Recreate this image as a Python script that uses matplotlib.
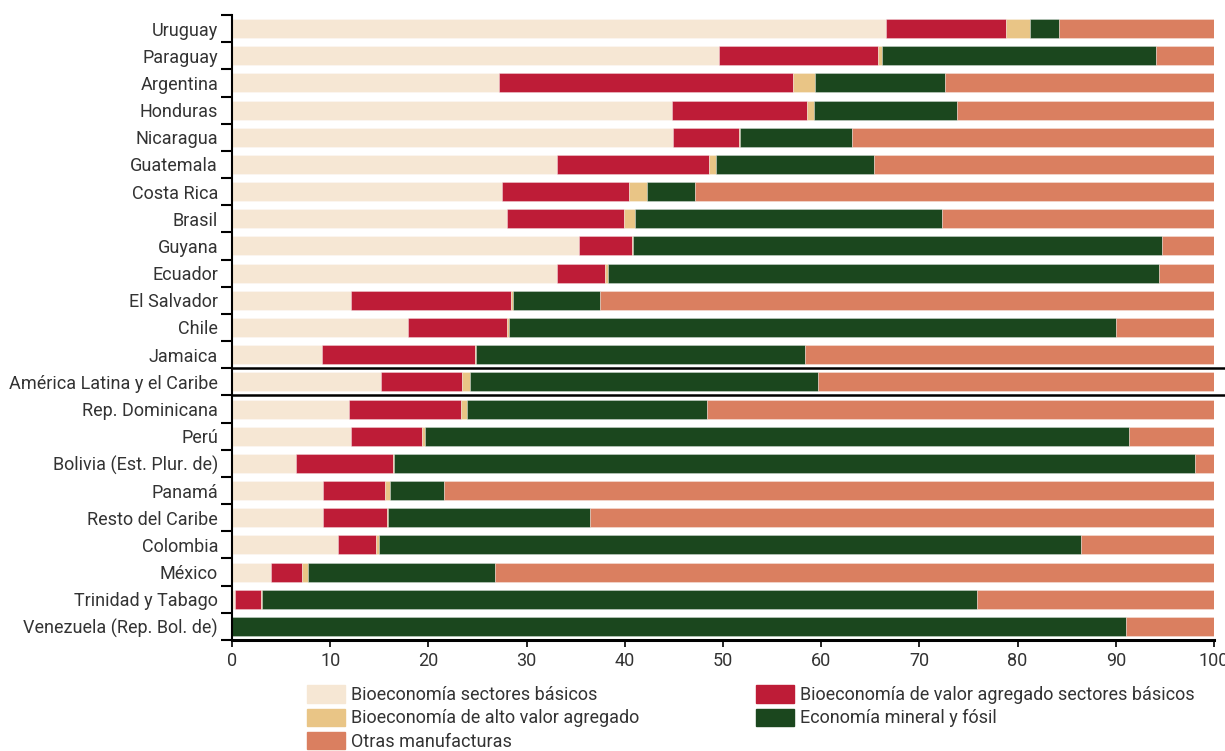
import matplotlib
matplotlib.use("Agg")
import matplotlib.pyplot as plt
from matplotlib.patches import Patch
import numpy as np

plt.rcParams['font.family'] = ['Liberation Sans Narrow', 'Roboto', 'DejaVu Sans']

countries = ["Uruguay", "Paraguay", "Argentina", "Honduras", "Nicaragua", "Guatemala",
             "Costa Rica", "Brasil", "Guyana", "Ecuador", "El Salvador", "Chile", "Jamaica",
             "América Latina y el Caribe", "Rep. Dominicana", "Perú", "Bolivia (Est. Plur. de)",
             "Panamá", "Resto del Caribe", "Colombia", "México", "Trinidad y Tabago",
             "Venezuela (Rep. Bol. de)"]

# cumulative end positions
cum_basic = [66.6, 49.6, 27.2, 44.8, 44.9, 33.1, 27.5, 28.0, 35.3, 33.1, 12.1, 17.9, 9.2,
             15.2, 11.9, 12.1, 6.5, 9.3, 9.3, 10.8, 4.0, 0.3, 0.0]
cum_red = [78.8, 65.8, 57.1, 58.6, 51.6, 48.6, 40.4, 39.9, 40.7, 38.0, 28.4, 28.0, 24.7,
           23.4, 23.3, 19.3, 16.4, 15.6, 15.8, 14.7, 7.1, 3.0, 0.0]
cum_tan = [81.3, 66.2, 59.4, 59.3, 51.7, 49.3, 42.3, 41.0, 40.8, 38.3, 28.6, 28.2, 24.8,
           24.2, 23.9, 19.7, 16.5, 16.1, 15.9, 15.0, 7.7, 3.1, 0.0]
cum_green = [84.2, 94.1, 72.6, 73.8, 63.1, 65.4, 47.1, 72.3, 94.7, 94.4, 37.5, 90.0, 58.4,
             59.7, 48.4, 91.3, 98.1, 21.6, 36.5, 86.5, 26.8, 75.9, 91.0]

bio_basic = np.array(cum_basic)
bio_va = np.array(cum_red) - np.array(cum_basic)
bio_alto = np.array(cum_tan) - np.array(cum_red)
mineral = np.array(cum_green) - np.array(cum_tan)
otras = 100 - np.array(cum_green)

series = [
    ("Bioeconomía sectores básicos", bio_basic, "#F6E7D4"),
    ("Bioeconomía de valor agregado sectores básicos", bio_va, "#BE1C37"),
    ("Bioeconomía de alto valor agregado", bio_alto, "#E9C586"),
    ("Economía mineral y fósil", mineral, "#1B471E"),
    ("Otras manufacturas", otras, "#DA7F60"),
]

fig = plt.figure(figsize=(12.25, 7.51), dpi=100)
ax = fig.add_axes([232/1225, 1 - 640/751, (1214 - 232)/1225, (640 - 15)/751])

y = np.arange(len(countries))
left = np.zeros(len(countries))
for name, vals, col in series:
    ax.barh(y, vals, left=left, height=0.7, color=col, edgecolor=(1, 1, 1, 0.35), linewidth=0.6, label=name)
    left = left + vals

ax.set_xlim(0, 100)
ax.set_ylim(len(countries) - 0.5, -0.5)
ax.set_yticks(y)
ax.set_yticklabels(countries, fontsize=13, color="#333333")
ax.tick_params(axis='y', which='major', length=0, pad=10)
ax.set_yticks(np.arange(len(countries) + 1) - 0.5, minor=True)
ax.tick_params(axis='y', which='minor', length=8, width=1.5, direction='out')
ax.set_xticks(np.arange(0, 101, 10))
ax.tick_params(axis='x', labelsize=13, length=5, width=1.2, labelcolor="#333333")

for s in ["top", "right"]:
    ax.spines[s].set_visible(False)
ax.spines["left"].set_linewidth(1.5)
ax.spines["bottom"].set_linewidth(2.2)

for yy in (12.5, 13.5):
    ax.plot([0, 101.15], [yy, yy], color="black", lw=1.8, clip_on=False, zorder=5)

handles = [Patch(color=c, label=n) for n, _, c in series]
order = [0, 2, 4, 1, 3]
fig.legend([handles[i] for i in order], [series[i][0] for i in order],
           loc="upper left", bbox_to_anchor=(300/1225, 1 - 678/751), ncol=2,
           frameon=False, fontsize=13, handlelength=2.1, handleheight=1.1,
           handletextpad=0.3, columnspacing=6.5, labelspacing=0.25, borderaxespad=0,
           labelcolor="#333333")

fig.savefig("out.png", dpi=100)
